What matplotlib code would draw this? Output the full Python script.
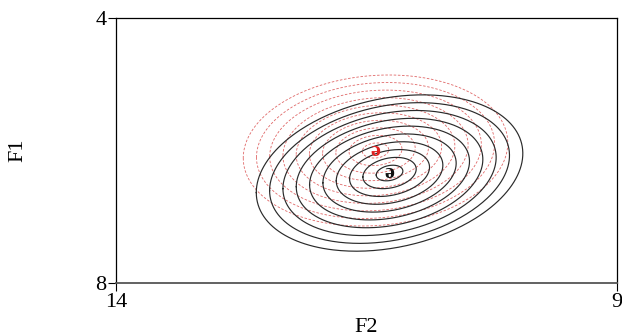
import numpy as np
import matplotlib
matplotlib.use("Agg")
import matplotlib.pyplot as plt

plt.rcParams['font.family'] = ['Liberation Serif', 'DejaVu Serif']

# Data: vowel distributions (F2, F1)
vowel_labels = ["ə", "ə"]
series_colors = ["#111111", "#e02020"]
center_F2 = [11.27, 11.41]
center_F1 = [6.34, 6.00]
sd_F2 = [0.266, 0.264]
sd_F1 = [0.236, 0.228]
corr = [0.25, 0.10]
levels = [0.5, 1.0, 1.5, 2.0, 2.5, 3.0, 3.5, 4.0, 4.5, 5.0]

x_ticks = [14, 9]
y_ticks = [4, 8]

fig = plt.figure(figsize=(6.22, 3.35), dpi=100)
ax = fig.add_axes([116/622, 1-283/335, (617-116)/622, (283-18)/335])

t = np.linspace(0, 2*np.pi, 300)
styles = [dict(color="#2a2a2a", lw=0.85, ls="-"),
          dict(color="#e06868", lw=0.6, ls=(0, (3, 2)))]
for i in [1, 0]:
    sx, sy, r = sd_F2[i], sd_F1[i], corr[i]
    cov = np.array([[sx*sx, r*sx*sy], [r*sx*sy, sy*sy]])
    L = np.linalg.cholesky(cov)
    circ = np.vstack([np.cos(t), np.sin(t)])
    for k in levels:
        pts = L @ (k*circ)
        ax.plot(center_F2[i] + pts[0], center_F1[i] + pts[1], **styles[i])

for i in range(2):
    ax.text(center_F2[i], center_F1[i], vowel_labels[i], color=series_colors[i],
            ha="center", va="center", fontsize=16, fontweight="bold", zorder=5)

ax.set_xlim(14, 9)
ax.set_ylim(8, 4)
ax.set_xticks(x_ticks)
ax.set_yticks(y_ticks)
ax.tick_params(direction="out", length=6, width=0.8, labelsize=16, pad=1)
ax.set_xlabel("F2", fontsize=16, va="center")
ax.xaxis.set_label_coords(0.5, -(327-283)/265)
ax.set_ylabel("F1", fontsize=16, va="center")
ax.yaxis.set_label_coords((18-116)/501, 0.5)
for s in ax.spines.values():
    s.set_linewidth(0.9)
ax.spines["bottom"].set_color("#555555")
ax.spines["bottom"].set_linewidth(1.3)

fig.savefig("out.png", dpi=100)
